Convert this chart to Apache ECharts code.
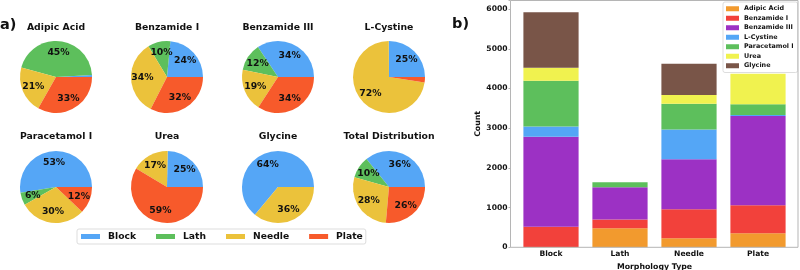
<!DOCTYPE html>
<html><head><meta charset="utf-8">
<script src="https://cdn.jsdelivr.net/npm/echarts@6/dist/echarts.min.js"></script>
<style>html,body{margin:0;padding:0;background:#fff}#c{width:800px;height:270px}</style>
</head><body><div id="c"></div>
<script>
// ---- data ----
const morphologies = ['Block', 'Lath', 'Needle', 'Plate'];
const compounds = ['Adipic Acid', 'Benzamide I', 'Benzamide III', 'L-Cystine', 'Paracetamol I', 'Urea', 'Glycine'];
// counts per morphology, in order [Block, Lath, Needle, Plate]
const adipicAcid   = [10, 480, 225, 355];
const benzamideI   = [510, 220, 735, 705];
const benzamideIII = [2265, 815, 1255, 2250];
const lCystine     = [260, 0, 750, 25];
const paracetamolI = [1150, 125, 650, 265];
const urea         = [325, 0, 220, 770];
const glycine      = [1400, 0, 790, 0];
const yTicks = [0, 1000, 2000, 3000, 4000, 5000, 6000];
const pieTitles = ['Adipic Acid', 'Benzamide I', 'Benzamide III', 'L-Cystine', 'Paracetamol I', 'Urea', 'Glycine', 'Total Distribution'];

// ---- styles ----
const FONT = '"DejaVu Sans", sans-serif';
const morphColors = ['#55a6f6', '#5dbf5c', '#ebc23b', '#f75a2b'];
const compColors = ['#f29a2e', '#f2413b', '#9c31c4', '#54a6f6', '#5dbf5c', '#f0f24f', '#795548'];

const compoundData = [adipicAcid, benzamideI, benzamideIII, lCystine, paracetamolI, urea, glycine];
const totalData = morphologies.map((m, i) => compoundData.reduce((s, arr) => s + arr[i], 0));
const pieSets = [adipicAcid, benzamideI, benzamideIII, lCystine, paracetamolI, urea, glycine, totalData];

const pieCx = [56, 167, 278, 389];
const pieCy = [77, 187];
const titleY = [28, 137];
const R = 36;

const series = [];
const graphics = [];
pieSets.forEach((arr, k) => {
  const cx = pieCx[k % 4], cy = pieCy[Math.floor(k / 4)];
  const sum = arr.reduce((a, b) => a + b, 0);
  const data = morphologies.map((m, i) => ({ name: m, value: arr[i], itemStyle: { color: morphColors[i] } }));
  series.push({
    type: 'pie', center: [cx, cy], radius: R, startAngle: 0, clockwise: false,
    silent: true, label: { show: false }, labelLine: { show: false },
    data: data, animation: false
  });
  series.push({
    type: 'pie', center: [cx, cy], radius: R * 1.2, startAngle: 0, clockwise: false,
    silent: true, legendHoverLink: false,
    itemStyle: { color: 'rgba(0,0,0,0)' },
    label: {
      show: true, position: 'inside', color: '#111', fontFamily: FONT, fontWeight: 'bold', fontSize: 9.3,
      formatter: p => {
        const pct = p.value / sum * 100;
        return pct < 5 ? '' : Math.round(pct) + '%';
      }
    },
    labelLine: { show: false },
    data: morphologies.map((m, i) => ({ name: m + ' ', value: arr[i] })), animation: false
  });
  graphics.push({
    type: 'text', x: cx, y: titleY[Math.floor(k / 4)],
    style: { text: pieTitles[k], textAlign: 'center', textVerticalAlign: 'middle', font: 'bold 9.3px ' + FONT, fill: '#111' }
  });
});

compounds.forEach((c, j) => {
  series.push({
    type: 'bar', name: c, stack: 'total', xAxisIndex: 0, yAxisIndex: 0,
    barWidth: '80%', itemStyle: { color: compColors[j] }, data: compoundData[j], animation: false
  });
});

graphics.push({ type: 'text', x: 0, y: 25, style: { text: 'a)', textVerticalAlign: 'middle', font: 'bold 14.5px ' + FONT, fill: '#111' } });
graphics.push({ type: 'text', x: 452, y: 24, style: { text: 'b)', textVerticalAlign: 'middle', font: 'bold 14.5px ' + FONT, fill: '#111' } });
graphics.push({ type: 'rect', z: 100, shape: { x: 510.5, y: 0.5, width: 287.5, height: 246.8 }, style: { fill: 'none', stroke: '#b5b5b5', lineWidth: 1 } });

const option = {
  backgroundColor: '#fff',
  animation: false,
  grid: { left: 516.5, right: 7.5, top: 0.5, bottom: 22.7, outerBoundsMode: 'none', containLabel: false },
  xAxis: {
    type: 'category', data: morphologies,
    axisLine: { show: false }, axisTick: { show: false },
    axisLabel: { color: '#111', fontFamily: FONT, fontWeight: 'bold', fontSize: 7.6, margin: 3 },
    name: 'Morphology Type', nameLocation: 'middle', nameGap: 12.5,
    nameTextStyle: { color: '#111', fontFamily: FONT, fontWeight: 'bold', fontSize: 7.8 }
  },
  yAxis: {
    type: 'value', min: 0, max: 6216, interval: 1000, offset: 6,
    splitLine: { show: false },
    axisLine: { show: false },
    axisTick: { show: true, length: 2, lineStyle: { color: '#b5b5b5' } },
    axisLabel: { color: '#111', fontFamily: FONT, fontWeight: 'bold', fontSize: 7.6, margin: 3,
      formatter: v => (yTicks.indexOf(v) >= 0 ? String(v) : '') },
    name: 'Count', nameLocation: 'middle', nameGap: 12,
    nameTextStyle: { color: '#111', fontFamily: FONT, fontWeight: 'bold', fontSize: 7.8 }
  },
  legend: [
    {
      left: 77, top: 229, orient: 'horizontal', padding: [3, 3, 3, 4],
      itemWidth: 19, itemHeight: 5, itemGap: 20, icon: 'rect',
      borderColor: '#dddddd', borderWidth: 1, borderRadius: 2, backgroundColor: '#fff',
      selectedMode: false,
      textStyle: { color: '#111', fontFamily: FONT, fontWeight: 'bold', fontSize: 9.2, padding: [0, 0, 0, 3] },
      data: morphologies.map((m, i) => ({ name: m, itemStyle: { color: morphColors[i] } }))
    },
    {
      left: 723, top: 2, orient: 'vertical', padding: [2, 4, 2, 3],
      itemWidth: 13, itemHeight: 5, itemGap: 0, icon: 'rect',
      borderColor: '#dddddd', borderWidth: 1, borderRadius: 2, backgroundColor: 'rgba(255,255,255,0.85)',
      selectedMode: false,
      textStyle: { color: '#111', fontFamily: FONT, fontWeight: 'bold', fontSize: 6.4, lineHeight: 9.5 },
      data: compounds.map((c, j) => ({ name: c, itemStyle: { color: compColors[j] } }))
    }
  ],
  graphic: graphics,
  series: series
};
const chart = echarts.init(document.getElementById('c'), null, { renderer: 'canvas' });
chart.setOption(option);
</script></body></html>
